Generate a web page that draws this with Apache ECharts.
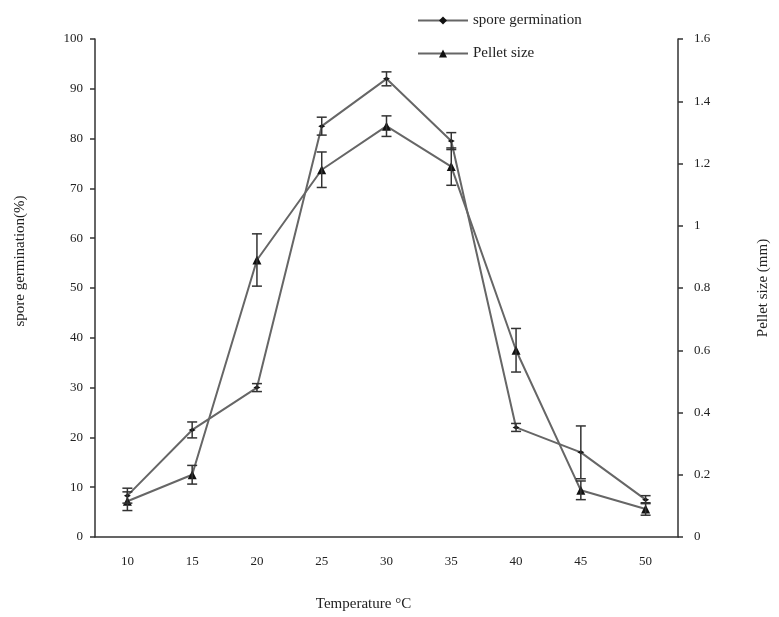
<!DOCTYPE html>
<html>
<head>
<meta charset="utf-8">
<script src="https://cdn.jsdelivr.net/npm/echarts@6/dist/echarts.min.js"></script>
<style>
  html, body { margin: 0; padding: 0; background: #fff; }
  #chart { width: 779px; height: 617px; }
</style>
</head>
<body>
<div id="chart"></div>
<script>
  // temperature categories
  const temps = ['10', '15', '20', '25', '30', '35', '40', '45', '50']
  // spore germination (%) and its error
  const sporeVals = [8.3, 21.5, 30, 82.5, 92, 79.5, 22, 17, 7.5]
  const sporeErr = [1.5, 1.6, 0.8, 1.8, 1.4, 1.7, 0.8, 5.3, 0.8]
  // pellet size (mm) and its error
  const pelletVals = [0.115, 0.2, 0.89, 1.18, 1.32, 1.19, 0.6, 0.15, 0.09]
  const pelletErr = [0.03, 0.03, 0.084, 0.057, 0.033, 0.06, 0.07, 0.03, 0.02]

  const font = 'Liberation Serif'
  const axisColor = '#333'

  // [index, low, high] rows for the error bars
  function errRows(vals, errs) {
    return vals.map((v, i) => [i, v - errs[i], v + errs[i]])
  }

  function renderErr(params, api) {
    const x = api.value(0)
    const lo = api.coord([x, api.value(1)])
    const hi = api.coord([x, api.value(2)])
    const half = 5
    const st = { stroke: '#333', lineWidth: 1.5 }
    return {
      type: 'group',
      children: [
        { type: 'line', shape: { x1: lo[0], y1: lo[1], x2: hi[0], y2: hi[1] }, style: st },
        { type: 'line', shape: { x1: lo[0] - half, y1: lo[1], x2: lo[0] + half, y2: lo[1] }, style: st },
        { type: 'line', shape: { x1: hi[0] - half, y1: hi[1], x2: hi[0] + half, y2: hi[1] }, style: st }
      ]
    }
  }

  const chart = echarts.init(document.getElementById('chart'))
  const option = {
    animation: false,
    textStyle: { fontFamily: font },
    legend: {
      orient: 'vertical',
      left: 412,
      top: 8,
      itemGap: 18,
      itemWidth: 50,
      itemHeight: 10,
      data: ['spore germination', 'Pellet size'],
      textStyle: { fontFamily: font, fontSize: 15, color: '#222' }
    },
    grid: { left: 95, right: 93, top: 39, bottom: 75 },
    xAxis: {
      type: 'category',
      data: temps,
      boundaryGap: true,
      name: 'Temperature °C',
      nameLocation: 'middle',
      nameGap: 60,
      nameTextStyle: { fontFamily: font, fontSize: 15, color: '#222', padding: [0, 46, 0, 0] },
      axisLine: { lineStyle: { color: axisColor, width: 1.5 } },
      axisTick: { length: 5, lineStyle: { color: axisColor, width: 1.5 } },
      axisLabel: { margin: 18, fontFamily: font, fontSize: 13, color: '#222' },
      splitLine: { show: false }
    },
    yAxis: [
      {
        type: 'value',
        min: 0,
        max: 100,
        interval: 10,
        name: 'spore germination(%)',
        nameLocation: 'middle',
        nameRotate: 90,
        nameGap: 67,
        nameTextStyle: { fontFamily: font, fontSize: 15, color: '#222', padding: [0, 0, 0, 54] },
        axisLine: { show: true, lineStyle: { color: axisColor, width: 1.5 } },
        axisTick: { show: true, length: 5, lineStyle: { color: axisColor, width: 1.5 } },
        axisLabel: { margin: 12, fontFamily: font, fontSize: 13, color: '#222' },
        splitLine: { show: false }
      },
      {
        type: 'value',
        min: 0,
        max: 1.6,
        interval: 0.2,
        position: 'right',
        name: 'Pellet size (mm)',
        nameLocation: 'middle',
        nameRotate: 90,
        nameGap: 78,
        nameTextStyle: { fontFamily: font, fontSize: 15, color: '#222' },
        axisLine: { show: true, lineStyle: { color: axisColor, width: 1.5 } },
        axisTick: { show: true, length: 5, lineStyle: { color: axisColor, width: 1.5 } },
        axisLabel: { margin: 16, fontFamily: font, fontSize: 13, color: '#222',
          formatter: v => String(Math.round(v * 10) / 10) },
        splitLine: { show: false }
      }
    ],
    series: [
      {
        name: 'spore germination',
        type: 'line',
        yAxisIndex: 0,
        data: sporeVals,
        symbol: 'diamond',
        symbolSize: [7, 4],
        lineStyle: { color: '#666', width: 2 },
        itemStyle: { color: '#111' },
        z: 3
      },
      {
        name: 'Pellet size',
        type: 'line',
        yAxisIndex: 1,
        data: pelletVals,
        symbol: 'triangle',
        symbolSize: 9,
        lineStyle: { color: '#666', width: 2 },
        itemStyle: { color: '#111' },
        z: 3
      },
      {
        type: 'custom',
        yAxisIndex: 0,
        renderItem: renderErr,
        data: errRows(sporeVals, sporeErr),
        z: 4
      },
      {
        type: 'custom',
        yAxisIndex: 1,
        renderItem: renderErr,
        data: errRows(pelletVals, pelletErr),
        z: 4
      }
    ]
  }
  chart.setOption(option)
</script>
</body>
</html>
